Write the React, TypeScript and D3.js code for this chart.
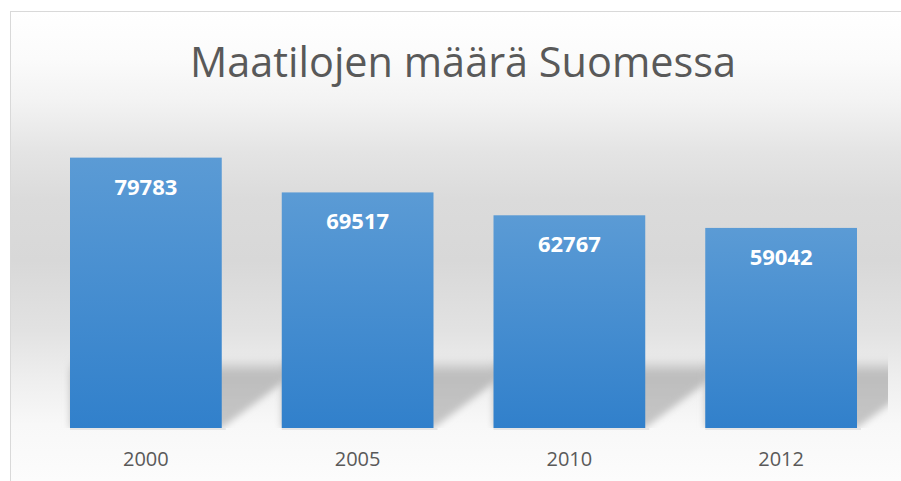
import React from "react";
import * as d3 from "d3";

const years = ["2000", "2005", "2010", "2012"];
const values = [79783, 69517, 62767, 59042];
const title = "Maatilojen määrä Suomessa";

const W = 901;
const H = 481;

export default function App() {
  const x = d3
    .scaleBand<string>()
    .domain(years)
    .range([40, 887])
    .paddingInner(0.2834)
    .paddingOuter(0.1417);
  const y = d3.scaleLinear().domain([0, 90000]).range([428, 123]);
  const base = y(0);

  return (
    <svg
      width={W}
      height={H}
      style={{ position: "absolute", left: 0, top: 0, display: "block" }}
      fontFamily="'Open Sans', sans-serif"
    >
      <defs>
        <linearGradient id="bg" x1="0" y1="11" x2="0" y2="481" gradientUnits="userSpaceOnUse">
          <stop offset="0" stopColor="#ffffff" />
          <stop offset="0.1" stopColor="#fbfbfb" />
          <stop offset="0.19" stopColor="#f3f3f3" />
          <stop offset="0.3" stopColor="#e4e4e4" />
          <stop offset="0.4" stopColor="#dbdbdb" />
          <stop offset="0.53" stopColor="#d8d8d8" />
          <stop offset="0.68" stopColor="#e2e2e2" />
          <stop offset="0.78" stopColor="#eeeeee" />
          <stop offset="0.88" stopColor="#f8f8f8" />
          <stop offset="1" stopColor="#fcfcfc" />
        </linearGradient>
        <linearGradient id="bar" x1="0" y1="0" x2="0" y2="1">
          <stop offset="0" stopColor="#5b9bd5" />
          <stop offset="1" stopColor="#3180cb" />
        </linearGradient>
        <linearGradient id="shadow" x1="0" y1="358" x2="0" y2="428" gradientUnits="userSpaceOnUse">
          <stop offset="0" stopColor="#c0c0c0" stopOpacity="0" />
          <stop offset="0.22" stopColor="#bdbdbd" stopOpacity="1" />
          <stop offset="1" stopColor="#c6c6c6" stopOpacity="1" />
        </linearGradient>
        <filter id="blur" x="-0.2" y="-0.5" width="1.4" height="2">
          <feGaussianBlur stdDeviation="3.5" />
        </filter>
        <clipPath id="plotClip">
          <rect x={40} y={100} width={848} height={328} />
        </clipPath>
      </defs>

      <rect x={10.5} y={11.5} width={W} height={H} fill="url(#bg)" stroke="#d9d9d9" strokeWidth={1} />

      <text
        x={463}
        y={77}
        textAnchor="middle"
        fontSize={42}
        fill="#595959"
        textLength={546}
        lengthAdjust="spacingAndGlyphs"
      >
        {title}
      </text>

      <g clipPath="url(#plotClip)">
        {years.map((yr, i) => {
          const x0 = x(yr)!;
          const x1 = x0 + x.bandwidth();
          const pts = [
            [x0, 358],
            [x1 + 75, 358],
            [x1 + 75, base - 56],
            [x1, base],
            [x0, base],
          ];
          return (
            <polygon
              key={"s" + i}
              points={pts.map((p) => p.join(",")).join(" ")}
              fill="url(#shadow)"
              filter="url(#blur)"
            />
          );
        })}
      </g>

      {years.map((yr, i) => (
        <rect
          key={"u" + i}
          x={x(yr)!}
          y={base}
          width={x.bandwidth() + 4}
          height={2}
          fill="#e6e6e6"
        />
      ))}

      {years.map((yr, i) => (
        <rect
          key={"b" + i}
          x={x(yr)!}
          y={y(values[i])}
          width={x.bandwidth()}
          height={base - y(values[i])}
          fill="url(#bar)"
        />
      ))}

      {years.map((yr, i) => (
        <text
          key={"v" + i}
          x={x(yr)! + x.bandwidth() / 2}
          y={y(values[i]) + 37}
          textAnchor="middle"
          fontSize={22}
          fontWeight="bold"
          fill="#ffffff"
        >
          {values[i]}
        </text>
      ))}

      {years.map((yr, i) => (
        <text
          key={"l" + i}
          x={x(yr)! + x.bandwidth() / 2}
          y={466}
          textAnchor="middle"
          fontSize={20}
          fill="#595959"
        >
          {yr}
        </text>
      ))}
    </svg>
  );
}
